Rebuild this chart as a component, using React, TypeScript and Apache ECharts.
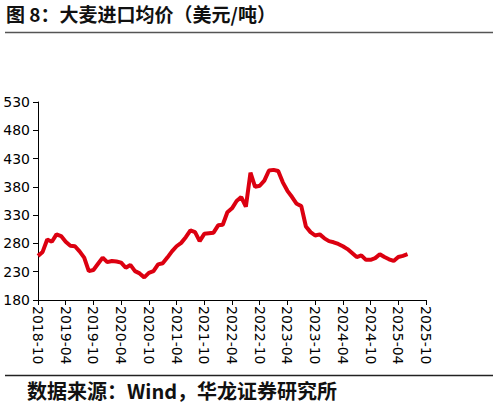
import React, { useEffect, useRef } from 'react';
import * as echarts from 'echarts';

// monthly labels 2018-10 .. 2025-10
const months: string[] = [];
for (let y = 2018, m = 10; y < 2025 || (y === 2025 && m <= 10); m++) {
  if (m > 12) { m = 1; y++; }
  months.push(`${y}-${String(m).padStart(2, '0')}`);
}

// 大麦进口均价 (美元/吨), 2018-10 .. 2025-06
const barleyPrice = [
  258, 265, 287, 283, 296, 293, 283, 276, 275, 266,
  255, 231, 233, 244, 255, 247, 249, 248, 246, 237,
  242, 231, 227, 220, 228, 231, 243, 245, 255, 266,
  275, 281, 291, 303, 300, 284, 297, 298, 299, 312,
  313, 335, 342, 355, 362, 345, 405, 380, 382, 391,
  409, 410, 408, 388, 373, 362, 350, 346, 310, 300,
  294, 296, 289, 284, 282, 279, 275, 270, 263, 256,
  259, 251, 251, 254, 261, 256, 252, 249, 256, 258,
  261,
];

const titleText = '图 8：大麦进口均价（美元/吨）';
const sourceText = '数据来源：Wind，华龙证券研究所';

const App: React.FC = () => {
  const chartRef = useRef<HTMLDivElement>(null);

  useEffect(() => {
    const chart = echarts.init(chartRef.current!, undefined, { renderer: 'svg' });

    const option = {
      animation: false,
      backgroundColor: '#fff',
      grid: { left: 38, right: 73, top: 102, bottom: 108 },
      graphic: [
        {
          type: 'text',
          left: 6,
          top: 4,
          style: {
            text: titleText,
            fontSize: 19,
            fontWeight: 'bold',
            fontFamily: 'Noto Sans CJK SC',
            fill: '#111',
          },
        },
        {
          type: 'line',
          shape: { x1: 5, y1: 32.5, x2: 493, y2: 32.5 },
          style: { stroke: '#555', lineWidth: 1.3 },
        },
        {
          type: 'line',
          shape: { x1: 5, y1: 375.5, x2: 493, y2: 375.5 },
          style: { stroke: '#222', lineWidth: 1.3 },
        },
        {
          type: 'text',
          left: 27,
          top: 380,
          style: {
            text: sourceText,
            fontSize: 20,
            fontWeight: 'bold',
            fontFamily: 'Noto Sans CJK SC',
            fill: '#111',
          },
        },
      ],
      xAxis: {
        type: 'category',
        data: months,
        boundaryGap: false,
        axisLine: { lineStyle: { color: '#000', width: 1 } },
        axisTick: { interval: 5, length: 5, lineStyle: { color: '#000' } },
        axisLabel: {
          interval: 5,
          rotate: -90,
          margin: 6,
          color: '#000',
          fontSize: 14,
          fontFamily: 'DejaVu Sans',
        },
        splitLine: { show: false },
      },
      yAxis: {
        type: 'value',
        min: 180,
        max: 530,
        interval: 50,
        axisLine: { show: true, lineStyle: { color: '#000', width: 1 } },
        axisTick: { show: true, length: 5, lineStyle: { color: '#000' } },
        axisLabel: { color: '#000', fontSize: 14, fontFamily: 'DejaVu Sans', margin: 8 },
        splitLine: { show: false },
      },
      series: [
        {
          type: 'line',
          data: barleyPrice,
          showSymbol: false,
          lineStyle: { color: '#DC0010', width: 4 },
          itemStyle: { color: '#DC0010' },
        },
      ],
    };

    chart.setOption(option);

    return () => {
      chart.dispose();
    };
  }, []);

  return (
    <div
      ref={chartRef}
      style={{ position: 'fixed', left: 0, top: 0, width: '499px', height: '408px' }}
    />
  );
};

export default App;
